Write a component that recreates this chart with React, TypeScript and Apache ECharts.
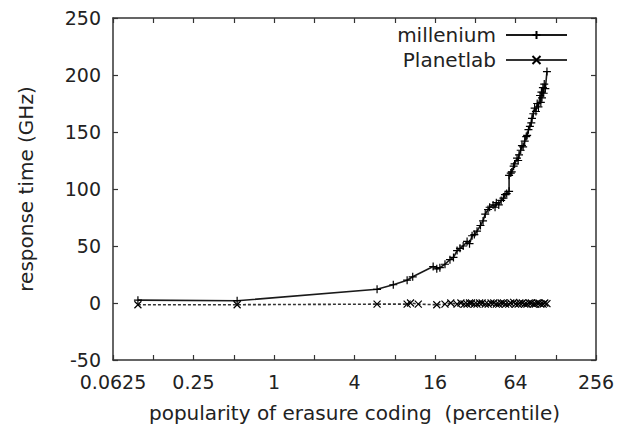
import React, { useEffect, useRef } from "react";
import * as echarts from "echarts";

const xTickLabels = ["0.0625", "0.25", "1", "4", "16", "64", "256"];
const yTicks = [-50, 0, 50, 100, 150, 200, 250];

const seriesNames = ["millenium", "Planetlab"];

const milleniumX = [0.096, 0.53, 5.9, 7.8, 9.9, 10.9, 15.5, 16.5, 17.4, 19, 20.7, 22, 23.4, 24.6, 26, 27.8, 29, 30.3, 31.5, 33, 35, 36.6, 38, 39.9, 41, 43.5, 45, 46, 48, 50, 52, 53.4, 55, 57.3, 57.3, 59, 60, 62, 63, 65.7, 67, 68, 70, 71.5, 73, 75, 77, 78.2, 80, 82, 84, 85, 87, 89, 91, 93, 95, 97.7, 99, 100, 101, 102.6, 104, 105, 107, 110];
const milleniumY = [2.5, 2, 12, 16, 20, 23, 32, 30, 31, 34, 38, 40, 46, 48, 50, 54, 52, 59, 60, 63, 68, 72, 78, 82, 84, 86, 84, 88, 86, 90, 92, 95, 96, 98, 112, 114, 115, 120, 122, 127, 125, 130, 134, 138, 137, 142, 146, 147, 152, 155, 158, 162, 166, 171, 168, 175, 172, 182, 176, 185, 180, 189, 184, 192, 188, 203];

const planetlabX = [0.096, 0.53, 5.9, 9.9, 10.5, 12, 16.5, 19, 21, 23.4, 25, 26.5, 27.8, 29, 30, 31.5, 33, 34.5, 36, 38, 40, 42, 44, 46, 48, 50, 52, 54, 57, 59, 62, 64, 67, 69, 72, 75, 78, 81, 84, 87, 90, 93, 96, 99, 103, 106, 110];
const planetlabY = [-1.5, -1.5, -1, -1, 0, -1, -1.5, -1, 0, -1, 0, -1, -1, 0, 0, -1, -1, 0, 0, -1, -1, 0, 0, -1, -1, 0, 0, -1, -1, 0, 0.5, -1, -1, 0, 0, -1, -1, 0, 0, -1, -1, 0, 0, -1, -1, 0, -0.5];

const FONT = "DejaVu Sans";
const TXT = "#222";
const PLUS = "path://M0,4L8,4M4,0L4,8";
const CROSS = "path://M0,0L8,8M8,0L0,8";

function fmtX(v: number): string {
  const r = +v.toPrecision(6);
  return xTickLabels.includes(String(r)) ? String(r) : "";
}

export default function App() {
  const ref = useRef<HTMLDivElement>(null);
  useEffect(() => {
    if (!ref.current) return;
    const chart = echarts.init(ref.current, null, { renderer: "svg" });
    const axisLine = { show: true, onZero: false, lineStyle: { color: "#333", width: 1.5 } };
    const tick = { show: true, inside: true, length: 5, lineStyle: { color: "#333", width: 1.2 } };
    const xBase = {
      type: "log",
      logBase: 2,
      min: 0.0625,
      max: 256,
      interval: 1,
      splitNumber: 12,
      axisLine,
      axisTick: { ...tick, interval: 0 },
      splitLine: { show: false },
    };
    chart.setOption({
      animation: false,
      backgroundColor: "#fff",
      grid: { left: 113, top: 18, width: 483, height: 342, containLabel: false },
      legend: {
        orient: "vertical",
        right: 48,
        top: 20,
        align: "right",
        itemWidth: 61,
        itemHeight: 10,
        itemGap: 5,
        textStyle: { fontFamily: FONT, fontSize: 20, color: TXT, padding: [0, 5, 0, 0] },
        data: [
          { name: seriesNames[0] },
          { name: seriesNames[1], lineStyle: { type: "solid" } },
        ],
      },
      xAxis: [
        {
          ...xBase,
          position: "bottom",
          axisLabel: {
            interval: 0,
            formatter: fmtX,
            fontFamily: FONT,
            fontSize: 19,
            color: TXT,
            margin: 12,
          },
          name: "popularity of erasure coding  (percentile)",
          nameLocation: "middle",
          nameGap: 43,
          nameTextStyle: { fontFamily: FONT, fontSize: 20, color: TXT },
        },
        {
          ...xBase,
          position: "top",
          axisLabel: { show: false },
        },
      ],
      yAxis: [
        {
          type: "value",
          min: -50,
          max: 250,
          interval: 50,
          position: "left",
          axisLine,
          axisTick: tick,
          axisLabel: {
            fontFamily: FONT,
            fontSize: 19,
            color: TXT,
            margin: 12,
            formatter: (v: number) => (yTicks.includes(v) ? String(v) : ""),
          },
          splitLine: { show: false },
          name: "response time (GHz)",
          nameLocation: "middle",
          nameGap: 77,
          nameTextStyle: { fontFamily: FONT, fontSize: 20, color: TXT },
        },
        {
          type: "value",
          min: -50,
          max: 250,
          interval: 50,
          position: "right",
          axisLine,
          axisTick: tick,
          axisLabel: { show: false },
          splitLine: { show: false },
        },
      ],
      series: [
        {
          name: seriesNames[0],
          type: "line",
          xAxisIndex: 0,
          yAxisIndex: 0,
          data: milleniumX.map((x, i) => [x, milleniumY[i]]),
          symbol: PLUS,
          symbolSize: 8,
          showAllSymbol: true,
          lineStyle: { color: "#1a1a1a", width: 1.6 },
          itemStyle: { color: "#000", borderColor: "#000", borderWidth: 1.2 },
        },
        {
          name: seriesNames[1],
          type: "line",
          xAxisIndex: 0,
          yAxisIndex: 0,
          data: planetlabX.map((x, i) => [x, planetlabY[i]]),
          symbol: CROSS,
          symbolSize: 7,
          showAllSymbol: true,
          lineStyle: { color: "#333", width: 1.6, type: [3, 2] },
          itemStyle: { color: "#000", borderColor: "#000", borderWidth: 1.2 },
        },
      ],
    });
    return () => chart.dispose();
  }, []);
  return (
    <div
      ref={ref}
      style={{ position: "fixed", left: 0, top: 0, width: 621, height: 437, background: "#fff" }}
    />
  );
}
